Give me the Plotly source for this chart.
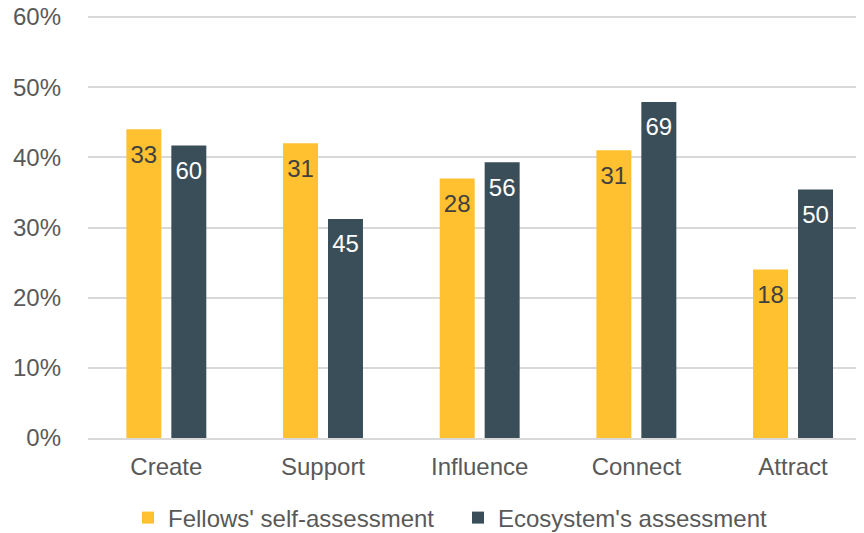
import plotly.graph_objects as go

categories = ["Create", "Support", "Influence", "Connect", "Attract"]
fellows_pct = [44.0, 42.0, 37.0, 41.0, 24.0]
fellows_n = [33, 31, 28, 31, 18]
eco_pct = [41.7, 31.2, 39.3, 47.9, 35.4]
eco_n = [60, 45, 56, 69, 50]
y_ticks = [0, 10, 20, 30, 40, 50, 60]
y_tick_labels = ["0%", "10%", "20%", "30%", "40%", "50%", "60%"]

FONT = "Liberation Sans, Arial, sans-serif"
YELLOW = "#FFC12F"
DARK = "#394E59"
TXT = "#595959"

W, H = 856, 525  # page body has an 8px margin

fig = go.Figure()
fig.add_trace(go.Bar(
    name="Fellows' self-assessment", x=categories, y=fellows_pct,
    marker=dict(color=YELLOW, line=dict(width=0)),
    hoverinfo="skip", offsetgroup="f", alignmentgroup="a",
))
fig.add_trace(go.Bar(
    name="Ecosystem's assessment", x=categories, y=eco_pct,
    marker=dict(color=DARK, line=dict(width=0)),
    hoverinfo="skip", offsetgroup="e", alignmentgroup="a",
))
# data labels (counts) placed just under the top of each bar
fig.add_trace(go.Scatter(
    x=categories, y=fellows_pct, text=fellows_n, mode="markers+text",
    textposition="bottom center",
    textfont=dict(family=FONT, size=24, color="#404040"),
    marker=dict(size=23, opacity=0),
    showlegend=False, hoverinfo="skip", offsetgroup="f", alignmentgroup="s",
))
fig.add_trace(go.Scatter(
    x=categories, y=eco_pct, text=eco_n, mode="markers+text",
    textposition="bottom center",
    textfont=dict(family=FONT, size=24, color="#FFFFFF"),
    marker=dict(size=23, opacity=0),
    showlegend=False, hoverinfo="skip", offsetgroup="e", alignmentgroup="s",
))

fig.update_layout(
    width=W, height=H,
    margin=dict(l=80, r=0, t=2, b=95, autoexpand=False),
    paper_bgcolor="white", plot_bgcolor="white",
    barmode="group", bargap=0.426, bargroupgap=0.222,
    scattermode="group", scattergap=0.426,
    font=dict(family=FONT, size=24, color=TXT),
    legend=dict(
        orientation="h", xref="container", yref="container",
        x=120 / W, xanchor="left", y=1 - 510 / H, yanchor="middle",
        font=dict(family=FONT, size=24, color=TXT),
        entrywidth=285, entrywidthmode="pixels",
        itemclick=False, itemdoubleclick=False,
    ),
    showlegend=True,
)
fig.update_xaxes(
    type="category", range=[-0.5, 4.453],
    showgrid=False, showline=True, linecolor="#D9D9D9", linewidth=2,
    ticks="", ticklabelstandoff=6,
    tickfont=dict(family=FONT, size=24, color=TXT),
)
fig.update_yaxes(
    range=[0, 61], tickvals=y_ticks, ticktext=y_tick_labels,
    showgrid=True, gridcolor="#D9D9D9", gridwidth=2,
    zeroline=False, showline=False, ticks="", ticklabelstandoff=26,
    ticklabeloverflow="allow",
    tickfont=dict(family=FONT, size=24, color=TXT),
)

fig.write_html("out.html")
